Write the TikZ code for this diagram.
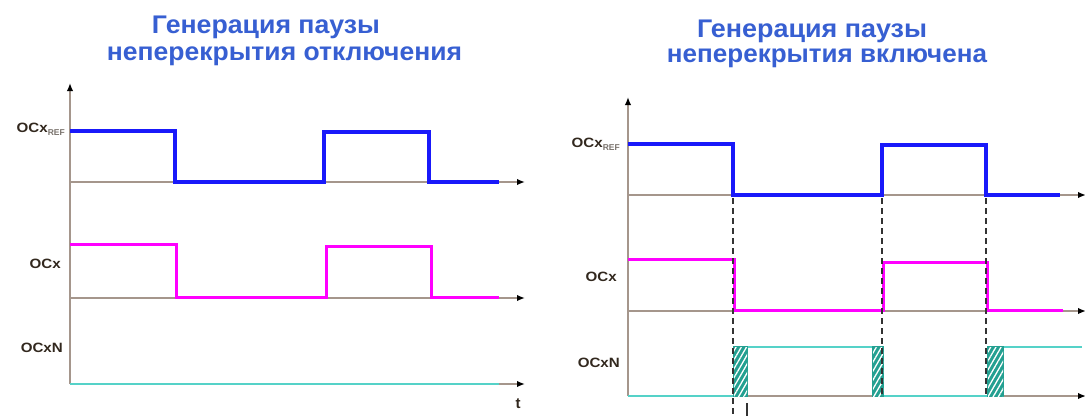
\documentclass[tikz,border=0pt]{standalone}
\usepackage{fontspec}
\setmainfont{Liberation Sans}
\usetikzlibrary{arrows.meta,patterns.meta}
\definecolor{ttl}{RGB}{55,95,210}
\definecolor{sigb}{RGB}{25,25,250}
\definecolor{sigm}{RGB}{255,0,255}
\definecolor{sigc}{RGB}{85,210,200}
\definecolor{hatchc}{RGB}{35,160,145}
\definecolor{axc}{RGB}{165,150,140}
\definecolor{lblc}{RGB}{50,40,30}
\newcommand{\lblt}[1]{\scalebox{1.12}[1]{#1}}
\begin{document}
\begin{tikzpicture}[x=1pt,y=-1pt,
  title/.style={text=ttl,inner sep=0pt,anchor=base,font=\fontsize{25.5}{26}\selectfont\bfseries},
  lbl/.style={text=lblc,inner sep=0pt,anchor=east,font=\fontsize{13.5}{14}\selectfont\bfseries},
  axis/.style={draw=axc,line width=1.8pt,-{Latex[length=8pt,width=6.5pt,black]}},
  sigblue/.style={draw=sigb,line width=3.2pt,line join=miter},
  sigmag/.style={draw=sigm,line width=3pt},
  sigcy/.style={draw=sigc,line width=2.6pt},
  dl/.style={draw=black!80,line width=1.9pt,dash pattern=on 6pt off 4pt},
  hatchbox/.style={draw=hatchc,line width=1.2pt,fill=hatchc,postaction={pattern={Lines[angle=60,distance=4.5pt,line width=1.3pt]},pattern color=white}}
]
\useasboundingbox (0,0) rectangle (1085,416);
\fill[white] (0,0) rectangle (1085,416);

% titles
\node[title] (t1a) at (266,33) {\resizebox{228pt}{\height}{Генерация паузы}};
\node[title] (t1b) at (284.5,60) {\resizebox{355pt}{\height}{неперекрытия отключения}};
\node[title] (t2a) at (812,37) {\resizebox{230pt}{\height}{Генерация паузы}};
\node[title] (t2b) at (827,62) {\resizebox{320pt}{\height}{неперекрытия включена}};

% ---------------- left panel ----------------
\draw[axis] (70,384) -- (70,83);
\draw[axis] (70,182) -- (525,182);
\draw[axis] (70,298) -- (525,298);
\draw[axis] (70,384) -- (525,384);

\draw[sigblue] (70,131) -- (175,131) -- (175,182) -- (324,182) -- (324,132) -- (429,132) -- (429,182) -- (499,182);
\draw[sigmag] (70,244) -- (176,244) -- (176,297) -- (326,297) -- (326,246) -- (431,246) -- (431,297) -- (499,297);
\draw[sigcy] (70,384) -- (499,384);

\node[lbl] (la) at (65,129) {\lblt{OCx}\raisebox{-3pt}{\fontsize{8.5}{8.5}\selectfont\color{lblc!65}REF}};
\node[lbl] (lb) at (61,264) {\lblt{OCx}};
\node[lbl] (lc) at (63,348) {\lblt{OCxN}};
\node[text=lblc,inner sep=0pt,font=\fontsize{15}{15}\selectfont\bfseries] (lt) at (518,404) {t};

% ---------------- right panel ----------------
\draw[axis] (628,396) -- (628,97);
\draw[axis] (628,195) -- (1086,195);
\draw[axis] (628,311) -- (1086,311);
\draw[axis] (628,396) -- (1086,396);

\draw[sigblue] (628,144) -- (733,144) -- (733,195) -- (882,195) -- (882,145) -- (986,145) -- (986,195) -- (1060,195);
\draw[sigmag] (628,259) -- (734,259) -- (734,310) -- (883,310) -- (883,262) -- (987,262) -- (987,310) -- (1063,310);
\draw[sigcy] (628,396) -- (747,396) -- (747,347) -- (873,347) -- (873,396) -- (1003,396) -- (1003,347) -- (1082,347);

\draw[hatchbox] (734,347) rectangle (747,396);
\draw[hatchbox] (873,347) rectangle (883,396);
\draw[hatchbox] (988,347) rectangle (1003,396);

\draw[dl] (733,198) -- (733,416);
\draw[dl] (882,198) -- (882,396);
\draw[dl] (986,198) -- (986,396);
\draw[draw=black!80,line width=1.6pt] (747,403) -- (747,416);

\node[lbl] (ra) at (620,144) {\lblt{OCx}\raisebox{-3pt}{\fontsize{8.5}{8.5}\selectfont\color{lblc!65}REF}};
\node[lbl] (rb) at (617,277) {\lblt{OCx}};
\node[lbl] (rc) at (620,363) {\lblt{OCxN}};
\end{tikzpicture}
\end{document}
